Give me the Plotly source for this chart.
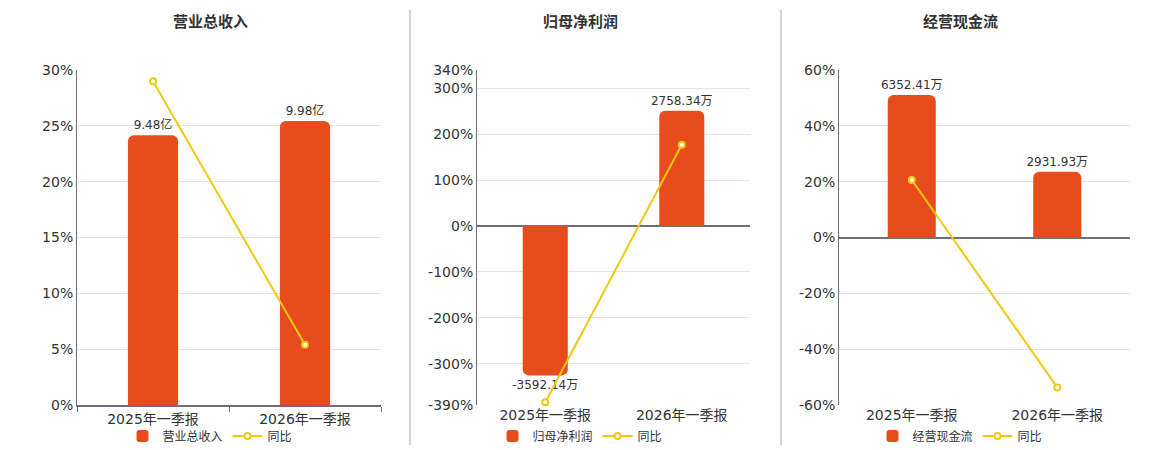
import plotly.graph_objects as go

periods = ['2025年一季报', '2026年一季报']

titles = ['营业总收入', '归母净利润', '经营现金流']
bar_values = [
    [9.48, 9.98],            # 亿
    [-3592.14, 2758.34],     # 万
    [6352.41, 2931.93],      # 万
]
bar_labels = [
    ['9.48亿', '9.98亿'],
    ['-3592.14万', '2758.34万'],
    ['6352.41万', '2931.93万'],
]
yoy_values = [
    [29.0, 5.4],
    [-384.0, 177.0],
    [20.6, -53.7],
]

pct_ranges = [[0, 30], [-390, 340], [-60, 60]]
pct_ticks = [
    [0, 5, 10, 15, 20, 25, 30],
    [-390, -300, -200, -100, 0, 100, 200, 300, 340],
    [-60, -40, -20, 0, 20, 40, 60],
]
bar_ranges = [[0, 11.77], [-4303, 3737], [-7470, 7470]]

BAR = '#e84c1c'
LINE = '#f2c80f'
FONT = 'DejaVu Sans, Noto Sans CJK SC, sans-serif'
TXT = '#333333'
AXIS = '#6e7079'
GRID = '#e0e6f1'

# page body has an 8px margin, so work in window pixels and shift
W, H, OFF = 1152, 442, 8


def px(v):
    return (v - OFF) / W


def py(v):
    return 1 - (v - OFF) / H


x_domains = [[px(77), px(381)], [px(477), px(750)], [px(839), px(1130)]]
y_domain = [py(405), py(70)]
title_x = [px(210), px(580), px(960)]

fig = go.Figure()
layout = dict(
    width=W, height=H,
    margin=dict(l=0, r=0, t=0, b=0, autoexpand=False),
    paper_bgcolor='white', plot_bgcolor='white',
    font=dict(family=FONT, size=14, color=TXT),
    barcornerradius=6,
    annotations=[], shapes=[],
)

for i in range(3):
    n = i + 1
    xa = 'x' if n == 1 else f'x{n}'
    ya_bar = 'y' if n == 1 else f'y{n}'
    ya_pct = f'y{n + 3}'
    leg = 'legend' if n == 1 else f'legend{n}'

    fig.add_trace(go.Bar(
        x=periods, y=bar_values[i], name=titles[i],
        xaxis=xa, yaxis=ya_bar, legend=leg,
        marker=dict(color=BAR, line=dict(width=0)),
        width=0.33,
        text=bar_labels[i], textposition='outside', constraintext='none',
        textfont=dict(size=12, color=TXT), cliponaxis=False,
        hoverinfo='skip',
    ))
    fig.add_trace(go.Scatter(
        x=periods, y=yoy_values[i], name='同比', mode='lines+markers',
        xaxis=xa, yaxis=ya_pct, legend=leg,
        line=dict(color=LINE, width=2),
        marker=dict(size=6, color='white', line=dict(color=LINE, width=2)),
        cliponaxis=False,
    ))

    xkey = 'xaxis' if n == 1 else f'xaxis{n}'
    layout[xkey] = dict(
        domain=x_domains[i], anchor=ya_bar,
        showline=(i == 0), linecolor=AXIS, linewidth=2,
        ticks='outside' if i == 0 else '', tickson='boundaries',
        ticklen=5, tickcolor=AXIS,
        showgrid=False, tickfont=dict(size=14, color=TXT),
    )
    layout['yaxis' if n == 1 else f'yaxis{n}'] = dict(
        domain=y_domain, anchor=xa, range=bar_ranges[i], visible=False,
    )
    layout[f'yaxis{n + 3}'] = dict(
        domain=y_domain, anchor=xa, overlaying=ya_bar, side='left',
        range=pct_ranges[i], tickvals=pct_ticks[i],
        ticktext=[f'{v}%' for v in pct_ticks[i]],
        showgrid=True, gridcolor=GRID, gridwidth=1,
        zeroline=(i != 0), zerolinecolor=AXIS, zerolinewidth=2,
        showline=True, linecolor=AXIS, linewidth=1,
        tickfont=dict(size=14, color=TXT), ticks='',
    )
    layout[leg] = dict(
        orientation='h', x=title_x[i], xanchor='center',
        y=py(436), yanchor='middle',
        font=dict(size=12, color=TXT), bgcolor='rgba(0,0,0,0)',
        itemwidth=30, tracegroupgap=0,
    )
    layout['annotations'].append(dict(
        text=f'<b>{titles[i]}</b>', x=title_x[i], y=py(22),
        xref='paper', yref='paper', showarrow=False,
        font=dict(size=15, color=TXT), xanchor='center', yanchor='middle',
    ))

for sx in [410, 781]:
    layout['shapes'].append(dict(
        type='line', xref='paper', yref='paper',
        x0=px(sx), x1=px(sx), y0=py(445), y1=py(10),
        line=dict(color='#aaaaaa', width=1),
    ))

fig.update_layout(**layout)
fig.write_html('out.html')
